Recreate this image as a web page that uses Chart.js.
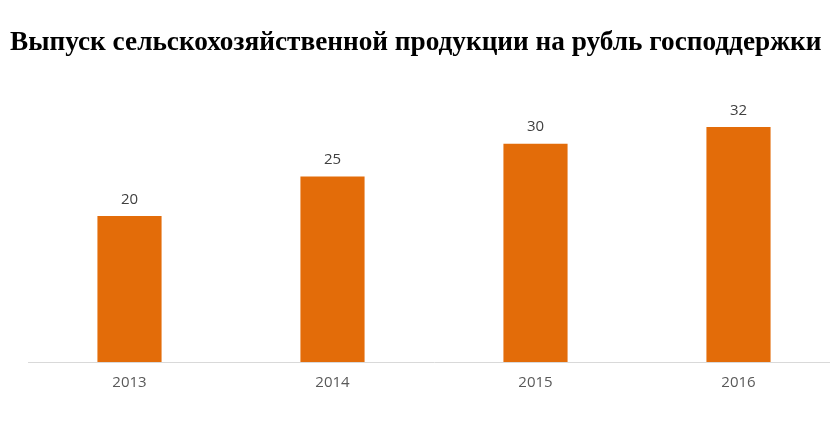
<!DOCTYPE html>
<html>
<head>
<meta charset="utf-8">
<script src="https://cdn.jsdelivr.net/npm/chart.js@4"></script>
<style>
  html, body { margin: 0; padding: 0; background: #fff; overflow: hidden; }
  #wrap { width: 830px; height: 430px; overflow: hidden; }
</style>
</head>
<body>
<div id="wrap"><canvas id="chart" width="840" height="430"></canvas></div>
<script>
// данные графика (высоты столбцов оценены по картинке, подписи округлены)
const years = ["2013", "2014", "2015", "2016"];
const values = [20, 25.4, 29.9, 32.2];
const chartTitle = "Выпуск сельскохозяйственной продукции на рубль господдержки";

// заголовок: подгоняем размер шрифта под ширину 812px
const titleDraw = {
  id: "titleDraw",
  afterDraw(chart) {
    const ctx = chart.ctx;
    ctx.save();
    ctx.font = "bold 26px 'Liberation Serif'";
    const w = ctx.measureText(chartTitle).width;
    const size = Math.min(28, 26 * 812 / w);
    ctx.font = `bold ${size}px 'Liberation Serif'`;
    ctx.fillStyle = "#000";
    ctx.textAlign = "left";
    ctx.textBaseline = "alphabetic";
    ctx.fillText(chartTitle, 10, 50);
    ctx.restore();
  }
};

// подписи значений над столбцами
const valueLabels = {
  id: "valueLabels",
  afterDatasetsDraw(chart) {
    const ctx = chart.ctx;
    const meta = chart.getDatasetMeta(0);
    ctx.save();
    ctx.font = "15px 'Open Sans'";
    ctx.fillStyle = "#404040";
    ctx.textAlign = "center";
    ctx.textBaseline = "bottom";
    meta.data.forEach((bar, i) => {
      ctx.fillText(Math.round(values[i]), bar.x, bar.y - 9);
    });
    ctx.restore();
  }
};

new Chart(document.getElementById("chart"), {
  type: "bar",
  data: {
    labels: years,
    datasets: [{
      data: values,
      backgroundColor: "#E36C09",
      barPercentage: 0.316,
      categoryPercentage: 1
    }]
  },
  options: {
    responsive: false,
    animation: false,
    layout: { padding: { left: 28, right: 0, top: 70, bottom: 34 } },
    plugins: {
      legend: { display: false },
      tooltip: { enabled: false },
      title: { display: false }
    },
    scales: {
      x: {
        grid: { display: false },
        border: { display: true, color: "#d9d9d9", width: 1 },
        ticks: { color: "#595959", font: { family: "'Open Sans'", size: 15 }, padding: 4 }
      },
      y: { display: false, min: 0, max: 40 }
    }
  },
  plugins: [valueLabels, titleDraw]
});
</script>
</body>
</html>
